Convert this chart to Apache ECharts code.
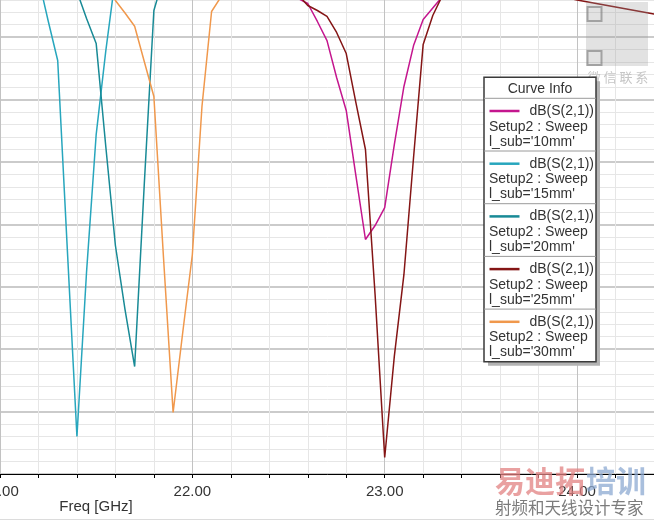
<!DOCTYPE html>
<html>
<head>
<meta charset="utf-8">
<script src="https://cdn.jsdelivr.net/npm/echarts@6/dist/echarts.min.js"></script>
<style>html,body{margin:0;padding:0;background:#fff}#c{width:654px;height:522px}</style>
</head>
<body>
<div id="c"></div>
<script>
// ---- data (Freq in GHz, dB(S(2,1))) ----
const f10 = [22.45,22.50,22.55,22.60,22.65,22.70,22.75,22.80,22.85,22.90,22.95,23.00,23.05,23.10,23.15,23.20,23.25,23.30,23.35,23.40];
const s10 = [-0.9,-1.2,-1.9,-2.30,-3.74,-5.27,-8.23,-10.87,-16.08,-21.21,-20.09,-18.65,-13.60,-8.95,-5.67,-3.58,-2.66,-1.74,-1.2,-1.0];

const f15 = [21.10,21.15,21.20,21.25,21.30,21.35,21.40,21.45,21.50,21.55,21.60,21.65];
const s15 = [-0.3,-0.3,-0.3,-3.66,-6.87,-22.0,-37.0,-23.8,-12.8,-6.1,-0.2,-0.2];

const f20 = [21.30,21.35,21.40,21.45,21.50,21.55,21.60,21.65,21.70,21.75,21.80,21.85,21.90];
const s20 = [-0.4,-0.5,-1.34,-3.50,-5.50,-13.76,-21.69,-26.82,-31.39,-16.80,-2.86,-0.22,-0.2];

const f25 = [22.45,22.50,22.55,22.60,22.65,22.70,22.75,22.80,22.85,22.90,22.95,23.00,23.05,23.10,23.15,23.20,23.25,23.30,23.40,23.60,23.80,23.95,24.00,24.10,24.20,24.30,24.40,24.50];
const s25 = [-0.9,-1.2,-1.6,-2.46,-2.86,-3.34,-4.62,-6.31,-10.23,-14.00,-25.62,-38.68,-30.58,-24.01,-14.64,-5.58,-3.26,-1.66,-1.0,-0.8,-1.2,-1.85,-2.02,-2.30,-2.58,-2.86,-3.14,-3.4];

const f30 = [21.50,21.55,21.60,21.65,21.70,21.75,21.80,21.85,21.90,21.95,22.00,22.05,22.10,22.15,22.20,22.25];
const s30 = [-0.3,-0.5,-2.06,-3.06,-4.12,-6.95,-9.75,-22.65,-35.07,-28.66,-22.41,-10.55,-2.94,-1.74,-1.0,-0.8];

const seriesNames = ["l_sub='10mm'","l_sub='15mm'","l_sub='20mm'","l_sub='25mm'","l_sub='30mm'"];
const seriesColors = ['#c4168e','#27a6bd','#188a96','#841515','#f0984c'];
const xTicks = {min:21, max:25, step:1};
const yTicks = {min:-40, max:0, step:5};

const freqs = [f10,f15,f20,f25,f30];
const vals = [s10,s15,s20,s25,s30];

const chart = echarts.init(document.getElementById('c'), null, {renderer:'canvas'});

const series = seriesNames.map((n,i)=>({
  name:n, type:'line', symbol:'none', smooth:false, clip:true,
  data: freqs[i].map((f,j)=>[f, vals[i][j]]),
  lineStyle:{color:seriesColors[i], width:1.5},
  itemStyle:{color:seriesColors[i]},
  z:3
}));

// legend box ("Curve Info") as graphics
const gx = 484, gy = 77.3, gw = 112, rowH = 52.7, headH = 21;
const gh = headH + rowH*seriesNames.length;
const g = [];
g.push({type:'rect', shape:{x:gx+4, y:gy+4, width:gw, height:gh}, style:{fill:'#b3b3b3'}, z:10});
g.push({type:'rect', shape:{x:gx, y:gy, width:gw, height:gh}, style:{fill:'#fff', stroke:'#3a3a3a', lineWidth:1.5}, z:11});
g.push({type:'text', x:gx+gw/2, y:gy+headH/2+1, style:{text:'Curve Info', fill:'#333', font:'14px "Liberation Sans", Arial, sans-serif', align:'center', verticalAlign:'middle'}, z:12});
seriesNames.forEach((n,i)=>{
  const top = gy+headH+i*rowH;
  g.push({type:'line', shape:{x1:gx, y1:top, x2:gx+gw, y2:top}, style:{stroke:'#9a9a9a', lineWidth:1}, z:12});
  g.push({type:'line', shape:{x1:gx+5.5, y1:top+12.7, x2:gx+35.5, y2:top+12.7}, style:{stroke:seriesColors[i], lineWidth:2.5}, z:12});
  g.push({type:'text', x:gx+gw-2, y:top+12.7, style:{text:'dB(S(2,1))', fill:'#333', font:'14px "Liberation Sans", Arial, sans-serif', align:'right', verticalAlign:'middle'}, z:12});
  g.push({type:'text', x:gx+5, y:top+28.4, style:{text:'Setup2 : Sweep', fill:'#333', font:'14px "Liberation Sans", Arial, sans-serif', align:'left', verticalAlign:'middle'}, z:12});
  g.push({type:'text', x:gx+5, y:top+43.4, style:{text:n, fill:'#333', font:'14px "Liberation Sans", Arial, sans-serif', align:'left', verticalAlign:'middle'}, z:12});
});
// axis title
g.push({type:'text', x:96, y:506.5, style:{text:'Freq [GHz]', fill:'#333', font:'15px "Liberation Sans", Arial, sans-serif', align:'center', verticalAlign:'middle'}, z:12});
// bottom rule
g.push({type:'line', shape:{x1:0, y1:519.5, x2:654, y2:519.5}, style:{stroke:'#dcdcdc', lineWidth:1}, z:1});
// watermarks
g.push({type:'rect', shape:{x:586, y:2, width:62, height:64}, style:{fill:'rgba(150,150,150,0.28)'}, z:9});
g.push({type:'rect', shape:{x:587.5, y:7, width:14, height:14}, style:{fill:'none', stroke:'rgba(120,120,120,0.6)', lineWidth:2}, z:9});
g.push({type:'rect', shape:{x:587.5, y:51, width:14, height:14}, style:{fill:'none', stroke:'rgba(120,120,120,0.6)', lineWidth:2}, z:9});
g.push({type:'text', x:618, y:77.5, style:{text:'微 信 联 系', fill:'#c6c6c6', font:'13px "Noto Sans CJK SC", sans-serif', align:'center', verticalAlign:'middle'}, z:9});
g.push({type:'text', x:495, y:481, style:{text:'易迪拓', fill:'rgba(226,130,130,0.75)', font:'bold 30px "Noto Sans CJK SC", sans-serif', align:'left', verticalAlign:'middle'}, z:9});
g.push({type:'text', x:586, y:481, style:{text:'培训', fill:'rgba(140,170,210,0.75)', font:'bold 30px "Noto Sans CJK SC", sans-serif', align:'left', verticalAlign:'middle'}, z:9});
g.push({type:'text', x:495, y:508, style:{text:'射频和天线设计专家', fill:'#7c7c7c', font:'16.5px "Noto Sans CJK SC", sans-serif', align:'left', verticalAlign:'middle'}, z:9});

chart.setOption({
  animation:false,
  backgroundColor:'#fff',
  grid:{left:0, right:-115.4, top:-25.2, bottom:48, containLabel:false, outerBoundsMode:'none'},
  xAxis:{
    type:'value', min:xTicks.min, max:xTicks.max, interval:xTicks.step,
    axisLine:{onZero:false, lineStyle:{color:'#000', width:1}},
    axisTick:{show:true, length:4, lineStyle:{color:'#000'}},
    minorTick:{show:true, splitNumber:5, length:4, lineStyle:{color:'#000'}},
    splitLine:{show:true, lineStyle:{color:'#c2c2c2', width:1}},
    minorSplitLine:{show:true, lineStyle:{color:'#e6e6e6', width:1}},
    axisLabel:{formatter:v=>v.toFixed(2), color:'#333', fontSize:15, fontFamily:'"Liberation Sans", Arial, sans-serif', margin:10, showMinLabel:true, showMaxLabel:true}
  },
  yAxis:{
    type:'value', min:yTicks.min, max:yTicks.max, interval:yTicks.step,
    axisLine:{show:false}, axisTick:{show:false}, axisLabel:{show:false},
    minorTick:{show:false, splitNumber:5},
    splitLine:{show:true, lineStyle:{color:'#cbcbcb', width:2}},
    minorSplitLine:{show:true, lineStyle:{color:'#e6e6e6', width:1}}
  },
  series: series,
  graphic: g
});
</script>
</body>
</html>
